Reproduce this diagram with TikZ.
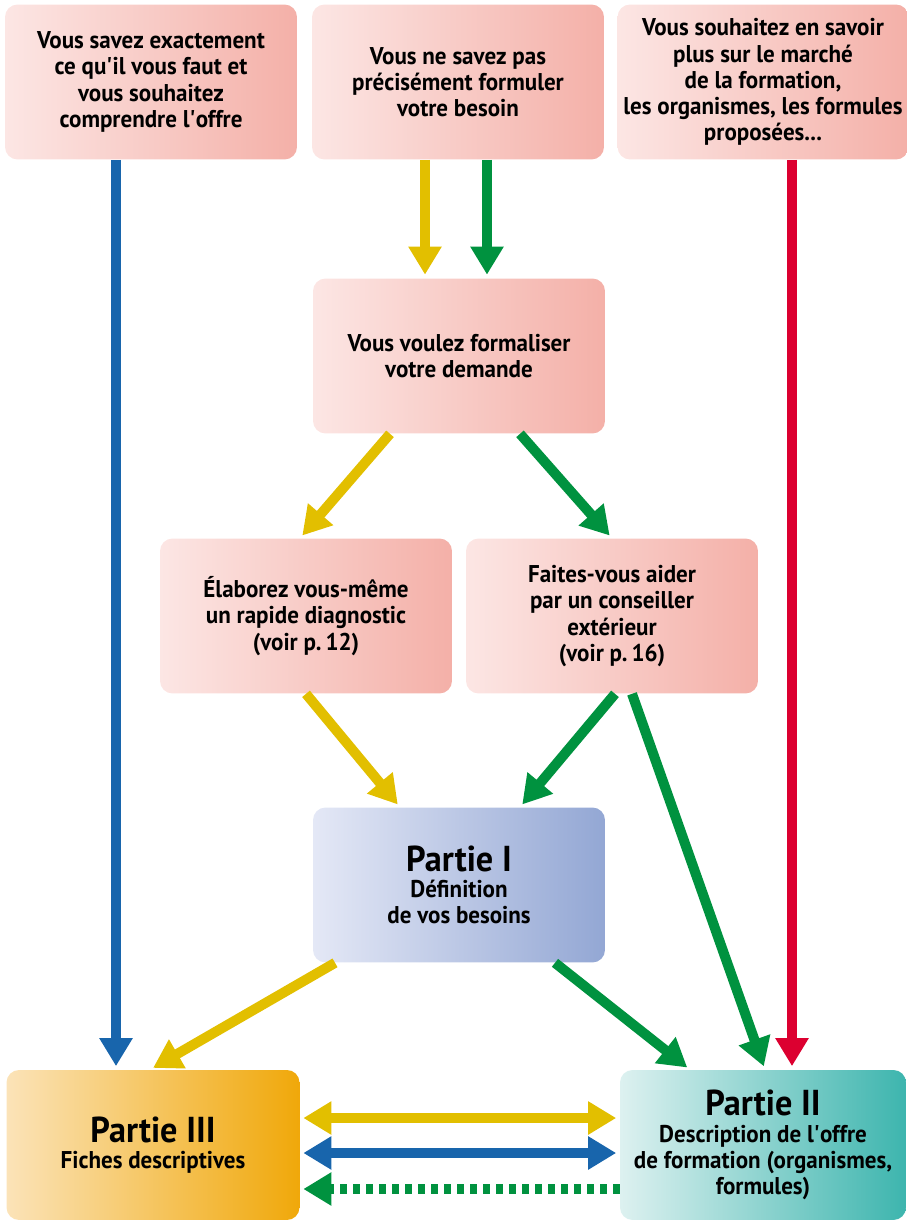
\documentclass[tikz,border=0pt]{standalone}
\usepackage{fontspec}
\setmainfont{PT Sans}[FakeStretch=0.95]
\usetikzlibrary{arrows.meta}
\definecolor{pinkL}{HTML}{FCE6E4}
\definecolor{pinkR}{HTML}{F4B0A8}
\definecolor{blueL}{HTML}{E4E8F6}
\definecolor{blueR}{HTML}{93A7D4}
\definecolor{orangeL}{HTML}{FBE3B8}
\definecolor{orangeR}{HTML}{F0A80A}
\definecolor{tealL}{HTML}{DDF1F0}
\definecolor{tealR}{HTML}{3DB5AE}
\definecolor{arrYellow}{HTML}{E2BF00}
\definecolor{arrGreen}{HTML}{00923F}
\definecolor{arrBlue}{HTML}{1865AC}
\definecolor{arrRed}{HTML}{DC0030}
\newcommand{\apos}{\textquotesingle}
\newcommand{\parttitle}[1]{{\fontsize{20.5}{23}\selectfont #1}}
\begin{document}
\begin{tikzpicture}[x=0.02cm, y=-0.02cm,
	box/.style={rounded corners=0.25cm, minimum width=5.84cm, minimum height=3.1cm,
		align=center, font=\bfseries\fontsize{13.8}{14.9}\selectfont,
		left color=pinkL, right color=pinkR},
	arr/.style={line width=5.7pt, -{Triangle[width=18pt,length=16pt]}, shorten >=2pt},
	biarr/.style={line width=5.7pt, {Triangle[width=18pt,length=16pt]}-{Triangle[width=18pt,length=16pt]},
		shorten >=2pt, shorten <=2pt}]
	\useasboundingbox (0,0) rectangle (906,1220);
	\node[box] (know) at (151,82) {Vous savez exactement\\ce qu\apos il vous faut et\\vous souhaitez\\comprendre l\apos offre};
	\node[box] (vague) at (458,82) {Vous ne savez pas\\précisément formuler\\votre besoin};
	\node[box, minimum width=5.72cm] (market) at (763,82) {Vous souhaitez en savoir\\plus sur le marché\\de la formation,\\les organismes, les formules\\proposées...};
	\node[box] (formal) at (459,356) {Vous voulez formaliser\\votre demande};
	\node[box] (self) at (306,616) {Élaborez vous-même\\un rapide diagnostic\\(voir p.\,12)};
	\node[box] (advisor) at (612,616) {Faites-vous aider\\par un conseiller\\extérieur\\(voir p.\,16)};
	\node[box, left color=blueL, right color=blueR] (p1) at (459,885)
		{\parttitle{Partie I}\\Définition\\de vos besoins};
	\node[box, minimum width=5.86cm, minimum height=3cm, left color=orangeL, right color=orangeR] (p3) at (153,1145)
		{\parttitle{Partie III}\\Fiches descriptives};
	\node[box, minimum width=5.72cm, minimum height=3cm, left color=tealL, right color=tealR] (p2) at (763,1145)
		{\parttitle{Partie II}\\Description de l\apos offre\\de formation (organismes,\\formules)};

	\draw[arr, arrBlue] ([xshift=-0.7cm]know.south) -- ([xshift=-0.7cm]know.south |- p3.north);
	\draw[arr, arrRed] ([xshift=0.58cm]market.south) -- ([xshift=0.58cm]market.south |- p2.north);
	\draw[arr, arrYellow] ([xshift=-0.66cm]vague.south) -- ([xshift=-0.66cm]vague.south |- formal.north);
	\draw[arr, arrGreen] ([xshift=0.58cm]vague.south) -- ([xshift=0.58cm]vague.south |- formal.north);
	\draw[arr, arrYellow] ([xshift=-1.38cm]formal.south) -- ([xshift=-0.12cm]self.north);
	\draw[arr, arrGreen] ([xshift=1.22cm]formal.south) -- (advisor.north);
	\draw[arr, arrYellow] (self.south) -- ([xshift=-1.18cm]p1.north);
	\draw[arr, arrGreen] ([xshift=0.06cm]advisor.south) -- ([xshift=1.22cm]p1.north);
	\draw[arr, arrGreen] ([xshift=0.4cm]advisor.south) -- ([xshift=0.04cm]p2.north);
	\draw[arr, arrYellow] ([xshift=-2.48cm]p1.south) -- ([xshift=-0.06cm]p3.north);
	\draw[arr, arrGreen] ([xshift=1.92cm]p1.south) -- ([xshift=-1.46cm]p2.north);
	\draw[biarr, arrYellow] ([yshift=0.54cm]p3.east) -- ([yshift=0.54cm]p3.east -| p2.west);
	\draw[biarr, arrBlue] ([yshift=-0.16cm]p3.east) -- ([yshift=-0.16cm]p3.east -| p2.west);
	\draw[arr, arrGreen, dash pattern=on 4pt off 3.4pt] ([yshift=-0.88cm]p3.east -| p2.west) -- ([yshift=-0.88cm]p3.east);
\end{tikzpicture}
\end{document}
